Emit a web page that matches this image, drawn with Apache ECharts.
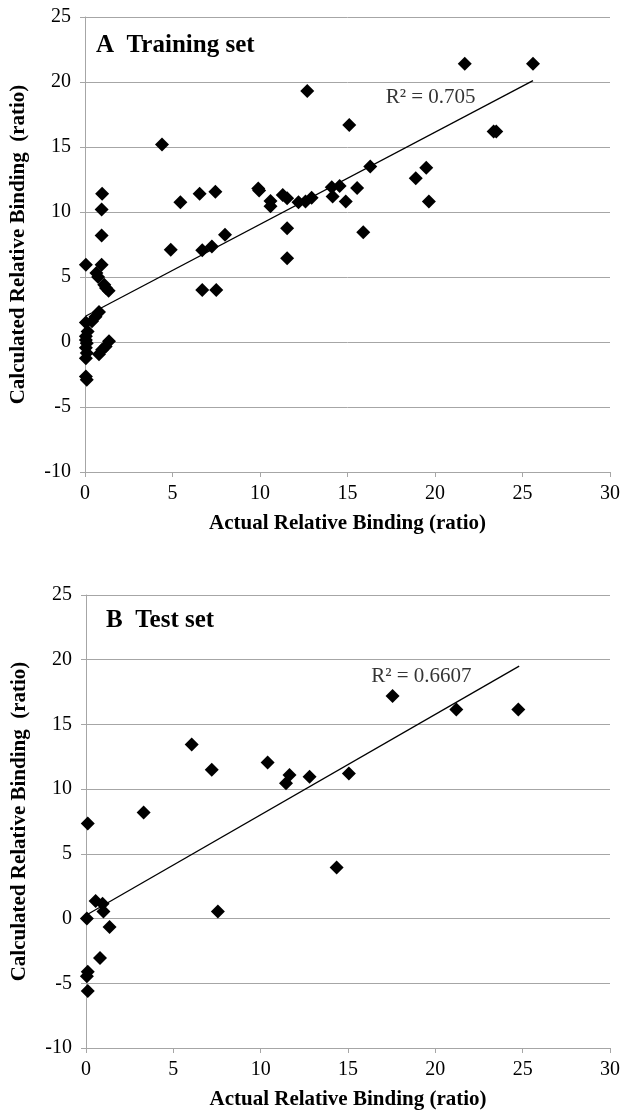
<!DOCTYPE html>
<html>
<head>
<meta charset="utf-8">
<script src="https://cdn.jsdelivr.net/npm/echarts@6/dist/echarts.min.js"></script>
<style>
html, body { margin: 0; padding: 0; background: #fff; }
#chart { width: 623px; height: 1114px; }
</style>
</head>
<body>
<div id="chart"></div>
<script>
// training set: [actual, calculated]
var trainPoints = [
    [0.05, 5.95], [0.95, 5.95], [0.65, 5.3], [0.75, 5.0], [1.1, 4.4], [1.2, 4.15], [1.35, 3.95],
    [0.8, 2.3], [0.6, 1.95], [0.4, 1.6], [0.05, 1.5], [0.15, 0.8], [0.05, 0.45], [0.05, 0.15],
    [0.1, -0.1], [0.05, -0.45], [0.1, -0.85], [0.05, -1.25], [0.05, -2.65], [0.1, -2.9],
    [1.37, 0.05], [1.18, -0.35], [0.98, -0.6], [0.8, -0.95],
    [0.98, 11.4], [0.95, 10.2], [0.95, 8.2],
    [4.4, 15.2], [4.9, 7.1], [5.45, 10.75], [6.55, 11.4], [6.7, 7.05], [6.7, 4.0], [7.25, 7.35],
    [7.45, 11.55], [7.5, 4.0], [8.0, 8.25],
    [9.9, 11.8], [9.95, 11.65], [10.6, 10.85], [10.6, 10.45], [11.3, 11.3], [11.55, 11.05],
    [11.55, 8.75], [11.55, 6.45], [12.2, 10.75], [12.6, 10.8], [12.7, 19.3], [12.95, 11.1],
    [14.1, 11.9], [14.15, 11.2], [14.55, 12.0], [14.9, 10.8], [15.1, 16.7], [15.55, 11.85],
    [15.9, 8.45], [16.3, 13.5], [18.9, 12.6], [19.5, 13.4], [19.65, 10.8], [21.7, 21.4],
    [23.35, 16.2], [23.5, 16.2], [25.6, 21.4]
];
// test set
var testPoints = [
    [0.1, 7.35], [3.3, 8.2], [6.05, 13.45], [7.2, 11.5], [10.4, 12.05], [11.45, 10.45],
    [11.65, 11.1], [12.8, 10.95], [15.05, 11.2], [17.55, 17.2], [21.2, 16.15], [24.75, 16.15],
    [14.35, 3.95], [7.55, 0.55], [0.55, 1.35], [0.95, 1.15], [1.0, 0.55], [0.05, 0.0],
    [1.35, -0.65], [0.8, -3.05], [0.1, -4.1], [0.05, -4.45], [0.1, -5.6]
];
// linear trend lines, drawn between two end points
var trainTrend = [[0.05, 2.0], [25.6, 20.1]];
var testTrend = [[0.05, 0.3], [24.8, 19.5]];
// R² annotations, centred at these data coordinates
var trainR2 = { text: 'R² = 0.705', at: [19.75, 18.8] };
var testR2 = { text: 'R² = 0.6607', at: [19.2, 18.7] };

var xRange = [0, 30, 5];
var yRange = [-10, 25, 5];
var panelTitles = ['A  Training set', 'B  Test set'];
var xName = 'Actual Relative Binding (ratio)';
var yName = 'Calculated Relative Binding  (ratio)';

var FONT = 'Liberation Serif';
var GREY = '#a6a6a6';

function makeXAxis(idx) {
    return {
        type: 'value',
        gridIndex: idx,
        min: xRange[0], max: xRange[1], interval: xRange[2],
        name: xName,
        nameLocation: 'middle',
        nameGap: 41,
        nameTextStyle: { fontFamily: FONT, fontSize: 21, fontWeight: 'bold', color: '#000' },
        axisLine: { onZero: false, lineStyle: { color: GREY, width: 1 } },
        axisTick: { show: true, length: 5, lineStyle: { color: GREY } },
        axisLabel: { fontFamily: FONT, fontSize: 20, color: '#000', margin: 12 },
        splitLine: { show: false }
    };
}
function makeYAxis(idx) {
    return {
        type: 'value',
        gridIndex: idx,
        min: yRange[0], max: yRange[1], interval: yRange[2],
        name: yName,
        nameLocation: 'middle',
        nameGap: 56,
        nameTextStyle: { fontFamily: FONT, fontSize: 21, fontWeight: 'bold', color: '#000' },
        axisLine: { show: true, lineStyle: { color: GREY, width: 1 } },
        axisTick: { show: true, length: 5, lineStyle: { color: GREY } },
        axisLabel: { fontFamily: FONT, fontSize: 20, color: '#000', margin: 14 },
        splitLine: { show: true, lineStyle: { color: GREY, width: 1 } }
    };
}
function pointsSeries(idx, data) {
    return {
        type: 'scatter', xAxisIndex: idx, yAxisIndex: idx,
        symbol: 'diamond', symbolSize: 14,
        itemStyle: { color: '#000', opacity: 1 },
        data: data
    };
}
function trendSeries(idx, data) {
    return {
        type: 'line', xAxisIndex: idx, yAxisIndex: idx,
        symbol: 'none', silent: true,
        lineStyle: { color: '#000', width: 1.3 },
        data: data
    };
}
function labelSeries(idx, r2) {
    return {
        type: 'scatter', xAxisIndex: idx, yAxisIndex: idx,
        symbolSize: 1, silent: true,
        itemStyle: { color: 'rgba(0,0,0,0)' },
        label: {
            show: true, position: 'inside',
            formatter: r2.text,
            fontFamily: FONT, fontSize: 21, color: '#000'
        },
        data: [r2.at]
    };
}

var chart = echarts.init(document.getElementById('chart'));
chart.setOption({
    backgroundColor: '#fff',
    animation: false,
    title: [
        { text: panelTitles[0], left: 91, top: 28,
          textStyle: { fontFamily: FONT, fontSize: 25, fontWeight: 'bold', color: '#000' } },
        { text: panelTitles[1], left: 101, top: 603,
          textStyle: { fontFamily: FONT, fontSize: 25, fontWeight: 'bold', color: '#000' } }
    ],
    grid: [
        { left: 83, top: 17, width: 527, height: 455 },
        { left: 86, top: 595, width: 526, height: 453 }
    ],
    xAxis: [makeXAxis(0), makeXAxis(1)],
    yAxis: [makeYAxis(0), makeYAxis(1)],
    series: [
        trendSeries(0, trainTrend),
        pointsSeries(0, trainPoints),
        labelSeries(0, trainR2),
        trendSeries(1, testTrend),
        pointsSeries(1, testPoints),
        labelSeries(1, testR2)
    ]
});
</script>
</body>
</html>
